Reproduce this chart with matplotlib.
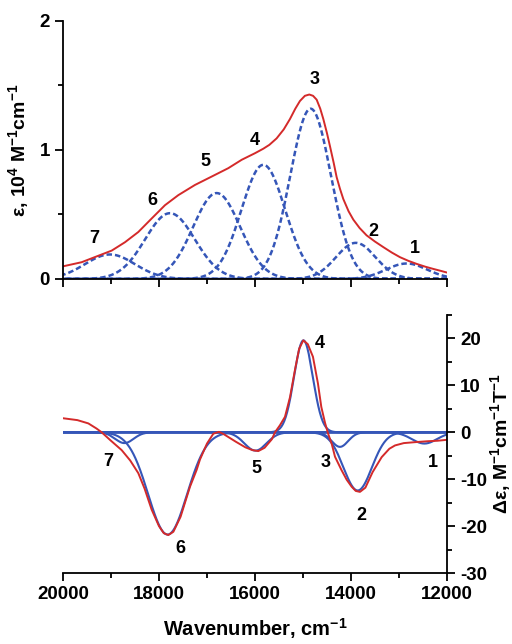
import numpy as np
import matplotlib
matplotlib.use("Agg")
import matplotlib.pyplot as plt
from matplotlib.ticker import MultipleLocator

plt.rcParams['font.family'] = ['Liberation Sans', 'DejaVu Sans']
plt.rcParams['font.weight'] = 'bold'
plt.rcParams['axes.unicode_minus'] = False
plt.rcParams['mathtext.fontset'] = 'custom'
plt.rcParams['mathtext.rm'] = 'Liberation Sans:bold'
plt.rcParams['mathtext.bf'] = 'Liberation Sans:bold'
plt.rcParams['mathtext.default'] = 'bf'

# === DATA: absorption (top) ===
abs_band = ['1', '2', '3', '4', '5', '6', '7']
abs_center = [12840, 13900, 14840, 15826, 16798, 17771, 19021]
abs_height = [0.12, 0.28, 1.32, 0.885, 0.666, 0.51, 0.19]
abs_width = [430, 410, 425, 456, 490, 515, 520]

abs_exp_wn = [20000, 19611, 19264, 18985, 18708, 18431, 18152, 17875, 17597, 17250,
              16902, 16556, 16277, 16000, 15826, 15700, 15549, 15400, 15271, 15160,
              15063, 14960, 14868, 14790, 14715, 14640, 14576, 14500, 14438, 14360,
              14299, 14230, 14160, 14050, 13951, 13820, 13674, 13500, 13326, 13150,
              12979, 12800, 12632, 12450, 12285, 12120, 11972]
abs_exp = [0.098, 0.13, 0.18, 0.22, 0.285, 0.364, 0.469, 0.572, 0.65, 0.729,
           0.794, 0.859, 0.924, 0.975, 1.01, 1.04, 1.09, 1.16, 1.24, 1.32,
           1.38, 1.42, 1.43, 1.42, 1.39, 1.32, 1.24, 1.13, 1.03, 0.90,
           0.79, 0.70, 0.62, 0.525, 0.46, 0.395, 0.338, 0.29, 0.247, 0.205,
           0.169, 0.14, 0.117, 0.095, 0.078, 0.062, 0.047]

# === DATA: MCD (bottom) ===
mcd_center = [12470, 13860, 14230, 14990, 15990, 17820, 18720]
mcd_amp = [-2.4, -12.4, -3.1, 19.6, -3.9, -21.8, -2.3]
mcd_width = [260, 295, 170, 195, 230, 405, 190]

mcd_exp_wn = [20000, 19700, 19472, 19300, 19194, 19000, 18777, 18600, 18431, 18300,
              18152, 18000, 17900, 17806, 17700, 17550, 17354, 17215, 17146, 17000,
              16868, 16750, 16650, 16400, 16200, 16050, 15931, 15800, 15650, 15583,
              15480, 15375, 15270, 15167, 15080, 14993, 14900, 14792, 14688, 14618,
              14540, 14479, 14400, 14333, 14200, 14090, 13986, 13900, 13813, 13700,
              13550, 13361, 13200, 13083, 12900, 12667, 12400, 12200, 12000]
mcd_exp = [3.0, 2.6, 1.9, 0.8, 0.0, -1.8, -3.8, -6.0, -8.7, -12.0,
           -16.5, -20.0, -21.5, -21.9, -21.2, -18.0, -11.6, -8.0, -5.8, -2.4,
           -0.3, 0.1, -0.4, -2.0, -3.2, -3.8, -4.0, -3.3, -1.5, 0.0,
           1.5, 3.3, 7.5, 13.3, 17.8, 19.6, 18.8, 16.1, 10.4, 5.4,
           2.0, -0.2, -2.5, -5.2, -8.0, -10.1, -11.6, -12.5, -12.7, -11.8,
           -8.5, -5.3, -3.5, -2.8, -2.3, -2.1, -1.9, -1.8, -1.6]

RED = '#d42a2a'
BLUE = '#3556b8'


def gauss(x, c, h, w):
    return h * np.exp(-0.5 * ((x - c) / w) ** 2)


wn = np.linspace(12000, 20000, 801)

fig = plt.figure(figsize=(5.12, 6.44), dpi=100)
ax1 = fig.add_axes([0.123, 0.5668, 0.75, 0.4006])
ax2 = fig.add_axes([0.123, 0.1102, 0.75, 0.4006])

# --- top: absorption ---
for c, h, w in zip(abs_center, abs_height, abs_width):
    ax1.plot(wn, gauss(wn, c, h, w), color=BLUE, lw=1.8, dashes=(2.2, 1.2))
ax1.plot(abs_exp_wn, abs_exp, color=RED, lw=1.4)

abs_lbl = [(12667, 0.24), (13542, 0.37), (14750, 1.55), (16000, 1.07),
           (17042, 0.91), (18146, 0.61), (19354, 0.31)]
for name, (lx, ly) in zip(abs_band, abs_lbl):
    ax1.text(lx, ly, name, fontsize=13, fontweight='bold', ha='center', va='center')

ax1.set_xlim(20000, 12000)
ax1.set_ylim(0, 2)
ax1.spines['top'].set_visible(False)
ax1.spines['right'].set_visible(False)
ax1.xaxis.set_major_locator(MultipleLocator(2000))
ax1.xaxis.set_minor_locator(MultipleLocator(1000))
ax1.yaxis.set_major_locator(MultipleLocator(1))
ax1.yaxis.set_minor_locator(MultipleLocator(0.5))
ax1.tick_params(axis='x', labelbottom=False)
ax1.set_ylabel(r'ε, 10$^4$ M$^{-1}$cm$^{-1}$', fontsize=14, fontweight='bold', labelpad=6)

# --- bottom: MCD ---
for c, a, w in zip(mcd_center, mcd_amp, mcd_width):
    ax2.plot(wn, gauss(wn, c, a, w), color=BLUE, lw=1.5)
ax2.plot(mcd_exp_wn, mcd_exp, color=RED, lw=1.4)

mcd_lbl = [(12298, -6.4), (13792, -17.8), (14521, -6.4), (14646, 18.9),
           (15965, -7.7), (17563, -24.7), (19056, -6.3)]
for name, (lx, ly) in zip(abs_band, mcd_lbl):
    ax2.text(lx, ly, name, fontsize=13, fontweight='bold', ha='center', va='center')

ax2.set_xlim(20000, 12000)
ax2.set_ylim(-30, 25)
ax2.spines['top'].set_visible(False)
ax2.spines['left'].set_visible(False)
ax2.yaxis.tick_right()
ax2.yaxis.set_label_position('right')
ax2.xaxis.set_major_locator(MultipleLocator(2000))
ax2.xaxis.set_minor_locator(MultipleLocator(1000))
ax2.yaxis.set_major_locator(MultipleLocator(10))
ax2.yaxis.set_minor_locator(MultipleLocator(5))
ax2.set_ylabel(r'Δε, M$^{-1}$cm$^{-1}$T$^{-1}$', fontsize=14, fontweight='bold',
               rotation=90, labelpad=1)
ax2.set_xlabel(r'Wavenumber, cm$^{-1}$', fontsize=14.5, fontweight='bold', labelpad=9)

for ax in (ax1, ax2):
    for s in ax.spines.values():
        s.set_linewidth(1.3)
    ax.tick_params(which='major', direction='out', length=6, width=1.3, labelsize=13.5)
    ax.tick_params(which='minor', direction='out', length=3.5, width=1.3)
    for t in ax.get_xticklabels() + ax.get_yticklabels():
        t.set_fontweight('bold')

fig.savefig('out.png', dpi=100)
